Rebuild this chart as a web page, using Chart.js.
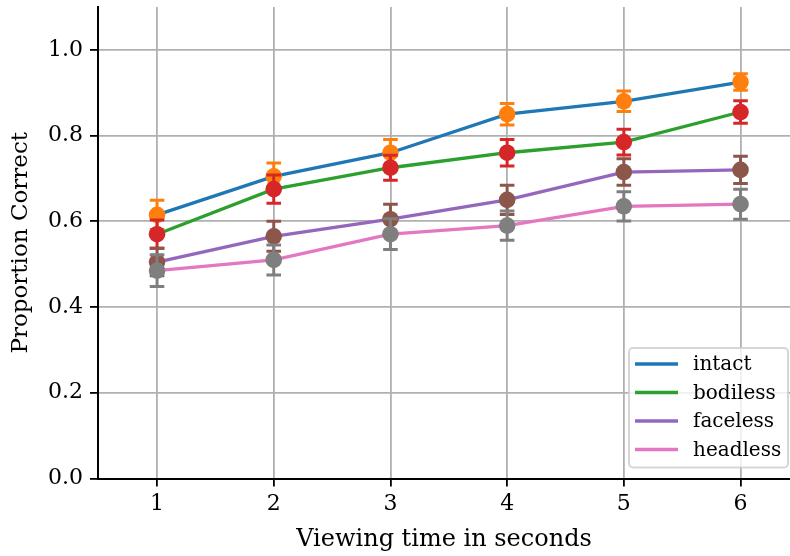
<!DOCTYPE html>
<html>
<head>
<meta charset="utf-8">
<script src="https://cdn.jsdelivr.net/npm/chart.js@4/dist/chart.umd.min.js"></script>
<style>
  html, body { margin: 0; padding: 0; background: #ffffff; }
  #wrap { width: 790px; height: 556px; }
</style>
</head>
<body>
<div id="wrap"><canvas id="c" width="790" height="556"></canvas></div>
<script>
// Viewing time (s) and mean proportion correct per stimulus condition
const viewingTimes = [1, 2, 3, 4, 5, 6];
const intact   = [0.615, 0.705, 0.760, 0.850, 0.880, 0.925];
const bodiless = [0.570, 0.675, 0.725, 0.760, 0.785, 0.855];
const faceless = [0.505, 0.565, 0.605, 0.650, 0.715, 0.720];
const headless = [0.485, 0.510, 0.570, 0.590, 0.635, 0.640];

// Half-widths of the error bars
const intactErr   = [0.034, 0.031, 0.031, 0.025, 0.024, 0.019];
const bodilessErr = [0.033, 0.033, 0.029, 0.031, 0.030, 0.026];
const facelessErr = [0.032, 0.035, 0.035, 0.034, 0.031, 0.032];
const headlessErr = [0.037, 0.035, 0.036, 0.034, 0.034, 0.035];

const seriesNames = ['intact', 'bodiless', 'faceless', 'headless'];
const xTicks = [1, 2, 3, 4, 5, 6];
const yTicks = [0.0, 0.2, 0.4, 0.6, 0.8, 1.0];

const lineColors  = ['#1f77b4', '#2ca02c', '#9467bd', '#e377c2'];
const pointColors = ['#ff7f0e', '#d62728', '#8c564b', '#7f7f7f'];
const FONT = "'DejaVu Serif', serif";

const seriesValues = [intact, bodiless, faceless, headless];
const seriesErrors = [intactErr, bodilessErr, facelessErr, headlessErr];

const datasets = [];
seriesNames.forEach((name, i) => {
  const pts = viewingTimes.map((t, j) => ({ x: t, y: seriesValues[i][j] }));
  datasets.push({
    type: 'line',
    label: name,
    data: pts,
    borderColor: lineColors[i],
    backgroundColor: lineColors[i],
    borderWidth: 3.3,
    pointRadius: 0,
    pointHoverRadius: 0,
    tension: 0,
    fill: false,
    inLegend: true,
    order: 8 - 2 * i
  });
  datasets.push({
    type: 'line',
    label: name + ' mean',
    data: pts,
    showLine: false,
    backgroundColor: pointColors[i],
    borderColor: pointColors[i],
    pointRadius: 8.3,
    pointBorderWidth: 0,
    pointHoverRadius: 8.3,
    errors: seriesErrors[i],
    order: 7 - 2 * i
  });
});

// Vertical error bars with caps, drawn just before each marker set
const errorBars = {
  id: 'errorBars',
  beforeDatasetDraw(chart, args) {
    const ds = chart.data.datasets[args.index];
    if (!ds.errors) return;
    const { ctx } = chart;
    const xs = chart.scales.x, ys = chart.scales.y;
    ctx.save();
    ctx.strokeStyle = ds.backgroundColor;
    ctx.lineWidth = 3;
    ctx.lineCap = 'butt';
    const cap = 7.3;
    ds.data.forEach((p, j) => {
      const px = xs.getPixelForValue(p.x);
      const top = ys.getPixelForValue(p.y + ds.errors[j]);
      const bot = ys.getPixelForValue(p.y - ds.errors[j]);
      ctx.beginPath();
      ctx.moveTo(px, top); ctx.lineTo(px, bot);
      ctx.moveTo(px - cap, top); ctx.lineTo(px + cap, top);
      ctx.moveTo(px - cap, bot); ctx.lineTo(px + cap, bot);
      ctx.stroke();
    });
    ctx.restore();
  }
};

// Framed legend in the lower right corner of the plot area
const cornerLegend = {
  id: 'cornerLegend',
  afterDraw(chart) {
    const { ctx, chartArea } = chart;
    const items = chart.data.datasets.filter(d => d.inLegend);
    const right = chartArea.right - 2;
    const bottom = chartArea.bottom - 11;
    const w = 159, rowH = 28.5;
    const h = 119.5;
    const left = right - w, top = bottom - h;
    ctx.save();
    ctx.beginPath();
    ctx.roundRect(left, top, w, h, 4);
    ctx.fillStyle = 'rgba(255,255,255,0.8)';
    ctx.fill();
    ctx.lineWidth = 2;
    ctx.strokeStyle = 'rgba(204,204,204,0.8)';
    ctx.stroke();
    ctx.font = '20px ' + FONT;
    ctx.textBaseline = 'middle';
    ctx.textAlign = 'left';
    items.forEach((d, k) => {
      const yy = top + 16 + k * rowH;
      ctx.beginPath();
      ctx.strokeStyle = d.borderColor;
      ctx.lineWidth = 3.3;
      ctx.moveTo(left + 6, yy);
      ctx.lineTo(left + 49, yy);
      ctx.stroke();
      ctx.fillStyle = '#000';
      ctx.fillText(d.label, left + 64, yy + 1);
    });
    ctx.restore();
  }
};

new Chart(document.getElementById('c'), {
  data: { datasets },
  options: {
    responsive: false,
    animation: false,
    devicePixelRatio: 1,
    layout: { autoPadding: false, padding: { top: 7, right: 0, bottom: 0, left: 0 } },
    plugins: {
      legend: { display: false },
      tooltip: { enabled: false }
    },
    scales: {
      x: {
        type: 'linear',
        min: 0.494,
        max: 6.424,
        afterBuildTicks(scale) { scale.ticks = xTicks.map(v => ({ value: v })); },
        afterFit(scale) {
          scale.height = 77.5;
          scale.paddingLeft = 0; scale.paddingRight = 0;
        },
        ticks: {
          color: '#000',
          font: { family: FONT, size: 22 },
          padding: 5,
          callback: v => String(v),
          maxRotation: 0
        },
        grid: {
          color: '#b0b0b0',
          lineWidth: 1.8,
          drawTicks: true,
          tickLength: 8,
          tickColor: '#000',
          tickWidth: 1.8
        },
        border: { display: true, color: '#000', width: 2 },
        title: {
          display: true,
          text: 'Viewing time in seconds',
          color: '#000',
          font: { family: FONT, size: 24 },
          padding: { top: 0, bottom: 2 }
        }
      },
      y: {
        type: 'linear',
        min: 0,
        max: 1.1,
        afterBuildTicks(scale) { scale.ticks = yTicks.map(v => ({ value: v })); },
        afterFit(scale) {
          scale.width = 98;
          scale.paddingTop = 0; scale.paddingBottom = 0;
        },
        ticks: {
          color: '#000',
          font: { family: FONT, size: 22 },
          padding: 7,
          callback: v => Number(v).toFixed(1)
        },
        grid: {
          color: '#b0b0b0',
          lineWidth: 1.8,
          drawTicks: true,
          tickLength: 8,
          tickColor: '#000',
          tickWidth: 1.8
        },
        border: { display: true, color: '#000', width: 2 },
        title: {
          display: true,
          text: 'Proportion Correct',
          color: '#000',
          font: { family: FONT, size: 23 },
          padding: { top: 7, bottom: 0 }
        }
      }
    }
  },
  plugins: [errorBars, cornerLegend]
});
</script>
</body>
</html>
